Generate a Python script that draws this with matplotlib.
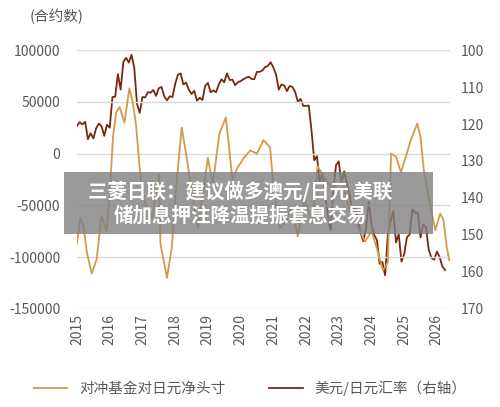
import numpy as np
import matplotlib
matplotlib.use('Agg')
import matplotlib.pyplot as plt

plt.rcParams['font.family'] = ['Noto Sans CJK SC', 'DejaVu Sans']

# 对冲基金对日元净头寸 (左轴, 合约数)
fund_dates = [2015.0, 2015.1, 2015.2, 2015.3, 2015.45, 2015.6, 2015.75, 2015.9, 2016.0, 2016.1,
              2016.2, 2016.3, 2016.45, 2016.6, 2016.7, 2016.8, 2016.95, 2017.1, 2017.3, 2017.5,
              2017.55, 2017.75, 2017.9, 2018.0, 2018.2, 2018.35, 2018.5, 2018.7, 2018.85, 2019.0,
              2019.15, 2019.35, 2019.55, 2019.65, 2019.75, 2019.9, 2020.1, 2020.3, 2020.5, 2020.7,
              2020.9, 2021.0, 2021.2, 2021.35, 2021.55, 2021.75, 2021.95, 2022.2, 2022.35, 2022.5,
              2022.8, 2023.1, 2023.3, 2023.5, 2023.8, 2024.0, 2024.17, 2024.35, 2024.5, 2024.6,
              2024.75, 2024.9, 2025.05, 2025.2, 2025.4, 2025.5, 2025.6, 2025.75, 2025.95, 2026.1,
              2026.2, 2026.3, 2026.38]
fund_values = [-87000, -62000, -70000, -95000, -116000, -102000, -60000, -75000, -40000, 16000,
               40000, 45000, 30000, 63000, 50000, 29000, -26000, -50000, -62000, -20000,
               -87000, -120000, -90000, -43000, 25000, -3000, -35000, -72000, -38000, -4000,
               -30000, 19000, 35000, 5000, -25000, -14000, -4000, 3000, 0, 13000,
               6000, -30000, -72000, -67000, -52000, -80000, -45000, -67000, -12000, -20000,
               -35000, -25000, -52000, -65000, -85000, -75000, -92000, -113000, -105000, 0,
               -3000, -18000, -3000, 13000, 29000, 16000, -16000, -42000, -74000, -58000,
               -64000, -90000, -103000]

# 美元/日元汇率 (右轴), 月度
fx_2015 = [120.5, 119.5, 120.1, 119.4, 124.1, 122.5, 123.9, 121.2, 119.9, 120.6, 123.2, 120.2]
fx_2016 = [121.0, 112.7, 112.6, 106.5, 110.7, 103.2, 102.1, 103.4, 101.3, 104.8, 114.5, 117.0]
fx_2017 = [112.7, 112.8, 111.4, 111.5, 110.8, 112.4, 110.3, 110.0, 112.5, 113.6, 112.5, 112.7]
fx_2018 = [109.2, 106.7, 106.3, 109.3, 108.8, 110.7, 111.9, 111.0, 113.7, 112.9, 113.5, 109.7]
fx_2019 = [108.9, 111.4, 110.9, 111.4, 109.3, 107.9, 108.7, 106.3, 108.1, 108.0, 109.5, 108.7]
fx_2020 = [108.4, 107.9, 107.5, 107.2, 107.8, 107.9, 105.9, 105.9, 105.5, 104.6, 104.3, 103.3]
fx_2021 = [104.7, 106.6, 110.7, 109.3, 109.6, 111.1, 109.7, 110.0, 111.3, 114.0, 113.2, 115.1]
fx_2022 = [115.1, 115.0, 121.7, 129.8, 128.7, 135.7, 133.2, 138.9, 144.7, 148.7, 138.0, 131.1]
fx_2023 = [130.1, 136.2, 132.8, 136.3, 139.3, 144.3, 142.3, 145.5, 149.4, 151.7, 148.2, 141.0]
fx_2024 = [147.2, 150.0, 151.4, 157.8, 157.3, 160.9, 150.0, 146.2, 143.6, 152.0, 149.8, 157.2]
fx_2025 = [155.2, 150.6, 149.9, 143.1, 144.0, 144.0, 150.7, 147.1, 148.0, 154.0, 156.2, 156.7]
fx_2026 = [154.5, 156.0, 158.5, 159.5]

fx_values = (fx_2015 + fx_2016 + fx_2017 + fx_2018 + fx_2019 + fx_2020 +
             fx_2021 + fx_2022 + fx_2023 + fx_2024 + fx_2025 + fx_2026)
fx_dates = 2015 + np.arange(len(fx_values)) / 12

years = list(range(2015, 2027))
left_ticks = [100000, 50000, 0, -50000, -100000, -150000]
right_ticks = [100, 110, 120, 130, 140, 150, 160, 170]

tan = '#D49A4A'
brown = '#7A2810'
grey = '#595959'

fig = plt.figure(figsize=(5, 4.07), dpi=100)
ax = fig.add_axes([0.154, 0.241, 0.746, 0.636])
ax2 = ax.twinx()

ax.plot(fund_dates, fund_values, color=tan, lw=1.3, label='对冲基金对日元净头寸')
ax2.plot(fx_dates, fx_values, color=brown, lw=1.3, label='美元/日元汇率（右轴）')

ax.set_xlim(2015, 2026.4)
ax.set_ylim(-150000, 100000)
ax2.set_ylim(170, 100)
ax.set_yticks(left_ticks)
ax.set_yticklabels([str(t) for t in left_ticks])
ax2.set_yticks(right_ticks)
ax.set_xticks(years)
ax.set_xticklabels([str(y) for y in years], rotation=90)
ax.grid(axis='y', color='#D9D9D9', lw=1)
ax.set_axisbelow(True)
for a in (ax, ax2):
    for s in a.spines.values():
        s.set_visible(False)
    a.tick_params(length=0, colors=grey, labelsize=10)
ax.tick_params(axis='y', pad=12)
ax2.tick_params(axis='y', pad=8)
ax.set_zorder(ax2.get_zorder() + 1)
ax.patch.set_visible(False)

fig.text(0.06, 0.96, '(合约数)', color=grey, fontsize=10.5, va='center')

h1, l1 = ax.get_legend_handles_labels()
h2, l2 = ax2.get_legend_handles_labels()
fig.legend(h1 + h2, l1 + l2, loc='center', bbox_to_anchor=(0.5, 0.047), ncol=2,
           frameon=False, fontsize=10.5, labelcolor=grey, handlelength=2.3, columnspacing=3)

# 标题横幅
banner = plt.Rectangle((0.128, 0.425), 0.738, 0.152, transform=fig.transFigure,
                       facecolor='#808080', edgecolor='none', alpha=0.8, zorder=10)
fig.add_artist(banner)
fig.text(0.48, 0.501, '三菱日联：建议做多澳元/日元 美联\n储加息押注降温提振套息交易', color='white',
         fontsize=14, fontweight='bold', ha='center', va='center', linespacing=1.25, zorder=11)

fig.savefig('out.png', dpi=100)
